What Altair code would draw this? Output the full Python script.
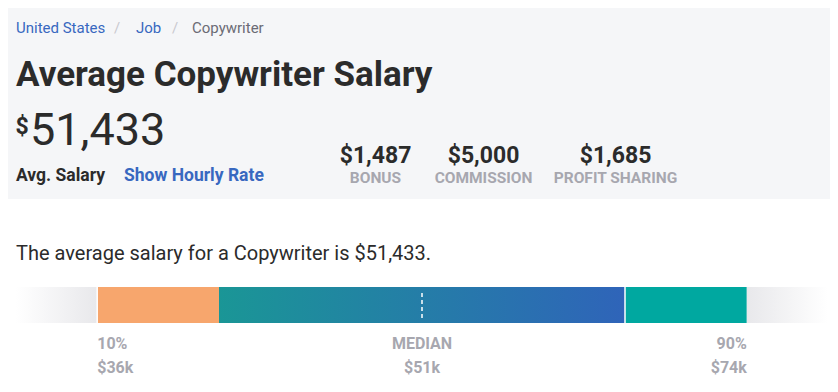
import altair as alt
import pandas as pd

# ---- data ----
breadcrumb = ["United States", "Job", "Copywriter"]
job_title = "Copywriter"
avg_salary = 51433
extra_labels = ["BONUS", "COMMISSION", "PROFIT SHARING"]
extra_values = [1487, 5000, 1685]
seg_start = [0, 10, 25, 75, 90]
seg_end = [10, 25, 75, 90, 100]
pct_points = [10, 50, 90]
pct_labels = ["10%", "MEDIAN", "90%"]
pct_salary_k = [36, 51, 74]

FONT = "Roboto"
DARK = "#2b2b2b"
BLUE = "#3868c0"
GRAY = "#a7a7af"
OFF = 8  # page margin

W, H = 822, 368

def P(v):
    return v - OFF

def txt(s, x, y, size, color, weight="normal", align="left"):
    return alt.Chart(pd.DataFrame({"t": [s]})).mark_text(
        align=align, baseline="alphabetic", font=FONT, fontSize=size,
        fontWeight=weight, color=color
    ).encode(text="t:N", x=alt.value(P(x)), y=alt.value(P(y)))

layers = []

# header background
layers.append(
    alt.Chart(pd.DataFrame({"a": [0]})).mark_rect(color="#f5f6f8").encode(
        x=alt.value(0), x2=alt.value(W), y=alt.value(0), y2=alt.value(P(199))
    )
)

# breadcrumb
layers += [
    txt(breadcrumb[0], 16, 33, 15, BLUE),
    txt("/", 117, 33, 15, "#c9c9cf", align="center"),
    txt(breadcrumb[1], 136, 33, 15, BLUE),
    txt("/", 175, 33, 15, "#c9c9cf", align="center"),
    txt(breadcrumb[2], 192, 33, 15, "#6b6b75"),
]

# title and salary
layers += [
    txt(f"Average {job_title} Salary", 16, 86, 35, DARK, weight="bold"),
    txt("$", 15.5, 134, 23, DARK, weight="bold"),
    txt(f"{avg_salary:,}", 30, 145, 45, DARK),
    txt("Avg. Salary", 16, 181, 17.5, DARK, weight="bold"),
    txt("Show Hourly Rate", 124, 181, 17.5, BLUE, weight="bold"),
]

extra_x = [375.5, 483.5, 615.5]
for lab, val, cx in zip(extra_labels, extra_values, extra_x):
    layers.append(txt(f"${val:,}", cx, 163, 23, DARK, weight="bold", align="center"))
    layers.append(txt(lab, cx, 183, 15.5, GRAY, weight="bold", align="center"))

layers.append(txt(f"The average salary for a {job_title} is ${avg_salary:,}.", 16, 260, 20, DARK))

# bar
xs = alt.Scale(domain=[0, 100], range=[P(16), P(828)])

def grad(c0, c1):
    return alt.Gradient(
        gradient="linear",
        stops=[alt.GradientStop(color=c0, offset=0), alt.GradientStop(color=c1, offset=1)],
        x1=0, x2=1, y1=0, y2=0,
    )

fills = [
    grad("#ffffff", "#e8e8eb"),
    "#f7a66d",
    grad("#1a9696", "#2f64b9"),
    "#00a8a0",
    grad("#e8e8eb", "#ffffff"),
]
seg_df = pd.DataFrame({"start": seg_start, "end": seg_end})
for i, f in enumerate(fills):
    layers.append(
        alt.Chart(seg_df.iloc[[i]]).mark_rect(color=f).encode(
            x=alt.X("start:Q", scale=xs, axis=None), x2="end:Q",
            y=alt.value(P(287)), y2=alt.value(P(323)),
        )
    )

# white separators
sep_df = pd.DataFrame({"p": [seg_start[1], seg_start[3]]})
layers.append(
    alt.Chart(sep_df).mark_rule(color="white", strokeWidth=1.5).encode(
        x=alt.X("p:Q", scale=xs, axis=None), y=alt.value(P(287)), y2=alt.value(P(323))
    )
)

# median dashed line
med_df = pd.DataFrame({"p": [pct_points[1]]})
layers.append(
    alt.Chart(med_df).mark_rule(color="white", strokeDash=[4, 3], strokeWidth=1.5).encode(
        x=alt.X("p:Q", scale=xs, axis=None), y=alt.value(P(293)), y2=alt.value(P(318))
    )
)

# labels
lab_df = pd.DataFrame({
    "p": pct_points,
    "lab": pct_labels,
    "sal": [f"${v}k" for v in pct_salary_k],
})
aligns = ["left", "center", "right"]
for i, al in enumerate(aligns):
    base = alt.Chart(lab_df.iloc[[i]])
    layers.append(
        base.mark_text(align=al, baseline="alphabetic", font=FONT, fontSize=16,
                       fontWeight="bold", color=GRAY).encode(
            x=alt.X("p:Q", scale=xs, axis=None), y=alt.value(P(349)), text="lab:N")
    )
    layers.append(
        base.mark_text(align=al, baseline="alphabetic", font=FONT, fontSize=16,
                       fontWeight="bold", color=GRAY).encode(
            x=alt.X("p:Q", scale=xs, axis=None), y=alt.value(P(373)), text="sal:N")
    )

chart = alt.layer(*layers).properties(
    width=W, height=H, padding=0, autosize=alt.AutoSizeParams(type="none"),
    background="white",
).configure_view(stroke=None)

chart.save("out.html", embed_options={"renderer": "svg", "actions": False})
